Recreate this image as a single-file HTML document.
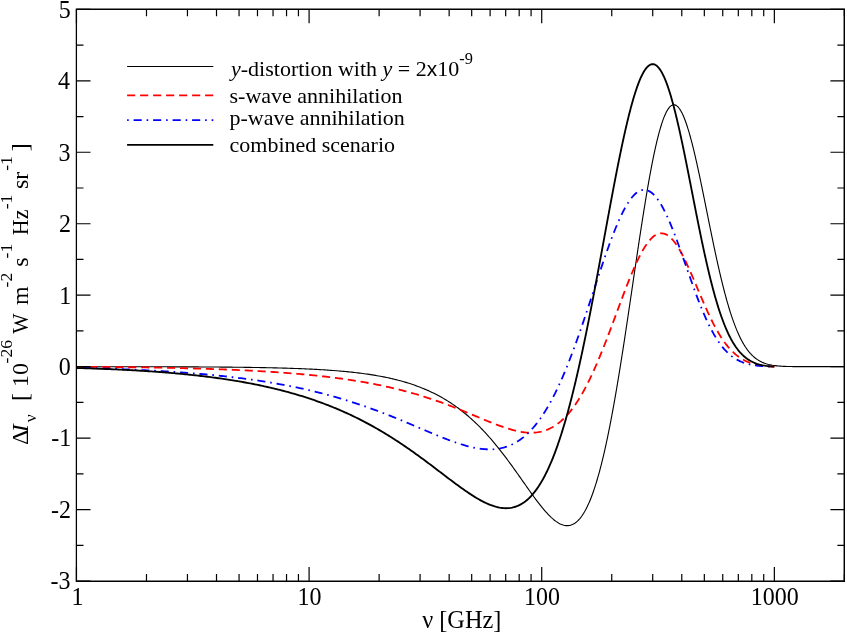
<!DOCTYPE html>
<html><head><meta charset="utf-8"><title>plot</title>
<style>html,body{margin:0;padding:0;background:#fff}svg{display:block;will-change:transform}text{font-family:"Liberation Serif",serif;fill:#000}</style></head>
<body>
<svg width="847" height="634" viewBox="0 0 847 634">
<rect x="0" y="0" width="847" height="634" fill="#fff"/>
<defs><clipPath id="c"><rect x="76.5" y="9.3" width="767.9" height="571.7"/></clipPath></defs>
<g clip-path="url(#c)" fill="none" stroke-linejoin="round">
<polyline stroke="#000" stroke-width="1.12" points="76.45,366.69 78.05,366.69 79.65,366.69 81.25,366.69 82.85,366.69 84.46,366.69 86.06,366.69 87.66,366.69 89.26,366.69 90.86,366.69 92.46,366.70 94.06,366.70 95.66,366.70 97.26,366.70 98.87,366.70 100.47,366.70 102.07,366.70 103.67,366.70 105.27,366.70 106.87,366.71 108.47,366.71 110.07,366.71 111.67,366.71 113.28,366.71 114.88,366.71 116.48,366.72 118.08,366.72 119.68,366.72 121.28,366.72 122.88,366.72 124.48,366.72 126.08,366.73 127.69,366.73 129.29,366.73 130.89,366.73 132.49,366.74 134.09,366.74 135.69,366.74 137.29,366.74 138.89,366.74 140.50,366.75 142.10,366.75 143.70,366.75 145.30,366.76 146.90,366.76 148.50,366.76 150.10,366.77 151.70,366.77 153.30,366.77 154.91,366.78 156.51,366.78 158.11,366.78 159.71,366.79 161.31,366.79 162.91,366.80 164.51,366.80 166.11,366.80 167.71,366.81 169.32,366.81 170.92,366.82 172.52,366.82 174.12,366.83 175.72,366.83 177.32,366.84 178.92,366.84 180.52,366.85 182.12,366.86 183.73,366.86 185.33,366.87 186.93,366.88 188.53,366.88 190.13,366.89 191.73,366.90 193.33,366.90 194.93,366.91 196.53,366.92 198.14,366.93 199.74,366.94 201.34,366.95 202.94,366.96 204.54,366.96 206.14,366.97 207.74,366.98 209.34,366.99 210.94,367.01 212.55,367.02 214.15,367.03 215.75,367.04 217.35,367.05 218.95,367.06 220.55,367.08 222.15,367.09 223.75,367.10 225.35,367.12 226.95,367.13 228.56,367.15 230.16,367.16 231.76,367.18 233.36,367.20 234.96,367.21 236.56,367.23 238.16,367.25 239.76,367.27 241.36,367.29 242.97,367.31 244.57,367.33 246.17,367.35 247.77,367.37 249.37,367.40 250.97,367.42 252.57,367.44 254.17,367.47 255.77,367.49 257.37,367.52 258.97,367.55 260.58,367.58 262.18,367.61 263.78,367.64 265.38,367.67 266.98,367.70 268.58,367.73 270.18,367.77 271.78,367.80 273.38,367.84 274.98,367.88 276.58,367.92 278.18,367.96 279.78,368.00 281.38,368.04 282.99,368.09 284.59,368.13 286.19,368.18 287.79,368.23 289.39,368.28 290.99,368.33 292.59,368.38 294.19,368.44 295.79,368.50 297.39,368.55 298.99,368.61 300.59,368.68 302.19,368.74 303.79,368.81 305.39,368.88 306.99,368.95 308.59,369.02 310.19,369.10 311.78,369.17 313.38,369.25 314.98,369.34 316.58,369.42 318.18,369.51 319.78,369.60 321.38,369.70 322.98,369.79 324.57,369.89 326.17,370.00 327.77,370.10 329.37,370.21 330.96,370.32 332.56,370.44 334.16,370.56 335.75,370.69 337.35,370.81 338.94,370.95 340.54,371.08 342.13,371.22 343.73,371.37 345.32,371.52 346.92,371.67 348.51,371.83 350.10,371.99 351.70,372.16 353.29,372.33 354.88,372.51 356.47,372.70 358.06,372.89 359.65,373.08 361.24,373.29 362.82,373.50 364.41,373.71 366.00,373.93 367.58,374.16 369.16,374.39 370.75,374.64 372.33,374.88 373.91,375.14 375.49,375.41 377.07,375.68 378.64,375.96 380.22,376.24 381.79,376.54 383.36,376.85 384.93,377.16 386.50,377.48 388.07,377.82 389.63,378.16 391.19,378.51 392.75,378.87 394.31,379.24 395.87,379.62 397.42,380.02 398.97,380.42 400.51,380.83 402.06,381.26 403.60,381.70 405.14,382.14 406.67,382.60 408.20,383.08 409.72,383.56 411.25,384.06 412.77,384.57 414.28,385.09 415.79,385.62 417.29,386.17 418.79,386.73 420.29,387.31 421.78,387.90 423.26,388.50 424.74,389.11 426.21,389.74 427.68,390.38 429.14,391.04 430.59,391.71 432.04,392.40 433.48,393.10 434.91,393.81 436.34,394.54 437.76,395.28 439.17,396.03 440.57,396.80 441.97,397.59 443.36,398.38 444.74,399.19 446.11,400.02 447.47,400.86 448.83,401.71 450.17,402.58 451.51,403.46 452.84,404.35 454.16,405.26 455.47,406.18 456.78,407.11 458.07,408.05 459.35,409.01 460.63,409.98 461.89,410.96 463.15,411.95 464.40,412.96 465.63,413.97 466.86,415.00 468.08,416.03 469.29,417.08 470.49,418.14 471.69,419.21 472.87,420.29 474.04,421.38 475.21,422.47 476.37,423.58 477.51,424.70 478.65,425.82 479.78,426.96 480.91,428.10 482.02,429.25 483.13,430.40 484.23,431.57 485.32,432.74 486.40,433.92 487.47,435.11 488.54,436.30 489.60,437.50 490.65,438.71 491.70,439.92 492.74,441.14 493.77,442.36 494.80,443.59 495.82,444.83 496.83,446.07 497.84,447.31 498.84,448.56 499.83,449.81 500.83,451.07 501.81,452.33 502.79,453.60 503.76,454.87 504.73,456.14 505.70,457.42 506.66,458.70 507.62,459.99 508.57,461.27 509.52,462.56 510.47,463.85 511.41,465.15 512.35,466.45 513.28,467.74 514.22,469.05 515.15,470.35 516.08,471.65 517.00,472.96 517.93,474.26 518.85,475.57 519.77,476.88 520.70,478.19 521.62,479.50 522.54,480.81 523.46,482.12 524.38,483.43 525.30,484.74 526.22,486.05 527.14,487.36 528.07,488.67 528.99,489.97 529.92,491.28 530.85,492.58 531.79,493.88 532.73,495.18 533.67,496.47 534.62,497.76 535.57,499.05 536.53,500.33 537.50,501.61 538.47,502.88 539.45,504.14 540.44,505.40 541.44,506.65 542.45,507.89 543.48,509.12 544.51,510.34 545.57,511.55 546.63,512.74 547.72,513.92 548.83,515.07 549.96,516.21 551.11,517.32 552.29,518.40 553.51,519.45 554.75,520.45 556.03,521.41 557.36,522.31 558.72,523.14 560.14,523.89 561.60,524.54 563.11,525.07 564.67,525.45 566.26,525.65 567.86,525.67 569.44,525.49 571.00,525.10 572.49,524.53 573.92,523.80 575.26,522.93 576.53,521.95 577.71,520.88 578.84,519.74 579.89,518.53 580.89,517.28 581.84,515.99 582.74,514.67 583.60,513.32 584.43,511.95 585.22,510.55 585.97,509.14 586.70,507.72 587.41,506.28 588.09,504.83 588.75,503.37 589.39,501.91 590.01,500.43 590.61,498.95 591.20,497.46 591.77,495.96 592.33,494.46 592.88,492.96 593.41,491.45 593.93,489.93 594.44,488.41 594.94,486.89 595.43,485.37 595.91,483.84 596.39,482.31 596.85,480.78 597.31,479.25 597.75,477.71 598.19,476.17 598.63,474.63 599.06,473.08 599.48,471.54 599.89,469.99 600.30,468.45 600.70,466.90 601.10,465.34 601.50,463.79 601.88,462.24 602.27,460.68 602.65,459.13 603.02,457.57 603.39,456.01 603.76,454.46 604.12,452.90 604.48,451.34 604.83,449.77 605.18,448.21 605.53,446.65 605.87,445.08 606.21,443.52 606.55,441.96 606.88,440.39 607.21,438.82 607.54,437.26 607.87,435.69 608.19,434.12 608.51,432.55 608.83,430.98 609.14,429.41 609.46,427.84 609.77,426.27 610.08,424.70 610.38,423.13 610.68,421.56 610.99,419.98 611.29,418.41 611.58,416.84 611.88,415.26 612.17,413.69 612.46,412.12 612.75,410.54 613.04,408.97 613.33,407.39 613.61,405.82 613.90,404.24 614.18,402.66 614.46,401.09 614.74,399.51 615.02,397.93 615.29,396.36 615.57,394.78 615.84,393.20 616.11,391.62 616.38,390.04 616.65,388.47 616.92,386.89 617.18,385.31 617.45,383.73 617.71,382.15 617.98,380.57 618.24,378.99 618.50,377.41 618.76,375.83 619.02,374.25 619.28,372.67 619.54,371.09 619.79,369.51 620.05,367.93 620.30,366.35 620.55,364.77 620.81,363.19 621.06,361.61 621.31,360.03 621.56,358.44 621.81,356.86 622.06,355.28 622.31,353.70 622.55,352.12 622.80,350.54 623.05,348.95 623.29,347.37 623.54,345.79 623.78,344.21 624.02,342.62 624.27,341.04 624.51,339.46 624.75,337.88 624.99,336.29 625.23,334.71 625.47,333.13 625.71,331.54 625.95,329.96 626.19,328.38 626.43,326.79 626.67,325.21 626.91,323.63 627.14,322.04 627.38,320.46 627.62,318.88 627.85,317.29 628.09,315.71 628.33,314.13 628.56,312.54 628.80,310.96 629.03,309.38 629.27,307.79 629.50,306.21 629.74,304.62 629.97,303.04 630.20,301.46 630.44,299.87 630.67,298.29 630.91,296.70 631.14,295.12 631.37,293.54 631.61,291.95 631.84,290.37 632.07,288.78 632.31,287.20 632.54,285.62 632.77,284.03 633.00,282.45 633.24,280.86 633.47,279.28 633.70,277.70 633.94,276.11 634.17,274.53 634.40,272.94 634.64,271.36 634.87,269.78 635.11,268.19 635.34,266.61 635.57,265.02 635.81,263.44 636.04,261.86 636.28,260.27 636.51,258.69 636.75,257.10 636.98,255.52 637.22,253.94 637.46,252.35 637.69,250.77 637.93,249.19 638.17,247.60 638.41,246.02 638.64,244.44 638.88,242.85 639.12,241.27 639.36,239.69 639.60,238.10 639.84,236.52 640.08,234.94 640.33,233.36 640.57,231.77 640.81,230.19 641.05,228.61 641.30,227.03 641.54,225.44 641.79,223.86 642.04,222.28 642.28,220.70 642.53,219.12 642.78,217.53 643.03,215.95 643.28,214.37 643.53,212.79 643.79,211.21 644.04,209.63 644.29,208.05 644.55,206.47 644.81,204.89 645.06,203.31 645.32,201.73 645.58,200.15 645.85,198.57 646.11,196.99 646.37,195.41 646.64,193.83 646.91,192.25 647.18,190.67 647.45,189.09 647.72,187.52 647.99,185.94 648.27,184.36 648.55,182.78 648.82,181.21 649.11,179.63 649.39,178.06 649.67,176.48 649.96,174.90 650.25,173.33 650.55,171.76 650.84,170.18 651.14,168.61 651.44,167.04 651.74,165.46 652.05,163.89 652.36,162.32 652.67,160.75 652.98,159.18 653.30,157.61 653.63,156.04 653.95,154.48 654.29,152.91 654.62,151.35 654.96,149.78 655.31,148.22 655.66,146.65 656.01,145.09 656.37,143.53 656.74,141.98 657.11,140.42 657.49,138.86 657.88,137.31 658.28,135.76 658.68,134.21 659.09,132.66 659.52,131.12 659.95,129.58 660.40,128.04 660.86,126.50 661.33,124.97 661.82,123.45 662.32,121.93 662.85,120.42 663.39,118.91 663.96,117.42 664.56,115.93 665.20,114.46 665.87,113.01 666.60,111.58 667.38,110.19 668.24,108.84 669.20,107.55 670.29,106.39 671.56,105.42 673.04,104.82 674.63,104.80 676.12,105.38 677.40,106.33 678.51,107.48 679.49,108.74 680.38,110.08 681.18,111.46 681.93,112.88 682.63,114.32 683.29,115.77 683.92,117.25 684.52,118.73 685.09,120.23 685.64,121.73 686.18,123.24 686.69,124.76 687.20,126.28 687.68,127.80 688.16,129.33 688.62,130.86 689.08,132.40 689.52,133.94 689.96,135.48 690.39,137.02 690.81,138.56 691.22,140.11 691.63,141.66 692.03,143.21 692.42,144.76 692.81,146.31 693.20,147.87 693.58,149.42 693.96,150.98 694.33,152.54 694.70,154.09 695.06,155.65 695.42,157.21 695.78,158.77 696.14,160.33 696.49,161.90 696.84,163.46 697.19,165.02 697.53,166.59 697.87,168.15 698.21,169.71 698.55,171.28 698.89,172.84 699.22,174.41 699.56,175.98 699.89,177.54 700.22,179.11 700.55,180.68 700.87,182.24 701.20,183.81 701.52,185.38 701.85,186.95 702.17,188.52 702.49,190.08 702.81,191.65 703.13,193.22 703.45,194.79 703.77,196.36 704.09,197.93 704.41,199.50 704.73,201.07 705.04,202.64 705.36,204.21 705.68,205.78 705.99,207.35 706.31,208.92 706.63,210.48 706.94,212.05 707.26,213.62 707.57,215.19 707.89,216.76 708.21,218.33 708.52,219.90 708.84,221.47 709.16,223.04 709.48,224.61 709.79,226.18 710.11,227.75 710.43,229.32 710.75,230.89 711.07,232.45 711.40,234.02 711.72,235.59 712.04,237.16 712.37,238.73 712.69,240.30 713.02,241.86 713.34,243.43 713.67,245.00 714.00,246.56 714.33,248.13 714.67,249.70 715.00,251.26 715.34,252.83 715.67,254.39 716.01,255.96 716.35,257.52 716.70,259.09 717.04,260.65 717.39,262.21 717.73,263.78 718.08,265.34 718.44,266.90 718.79,268.46 719.15,270.02 719.51,271.58 719.87,273.14 720.24,274.70 720.60,276.26 720.98,277.82 721.35,279.37 721.73,280.93 722.11,282.49 722.49,284.04 722.88,285.59 723.27,287.15 723.67,288.70 724.06,290.25 724.47,291.80 724.88,293.35 725.29,294.89 725.71,296.44 726.13,297.98 726.56,299.53 726.99,301.07 727.43,302.61 727.87,304.15 728.32,305.68 728.78,307.22 729.24,308.75 729.71,310.28 730.19,311.81 730.68,313.33 731.17,314.86 731.68,316.38 732.19,317.89 732.71,319.41 733.24,320.92 733.79,322.42 734.34,323.92 734.91,325.42 735.48,326.92 736.07,328.40 736.68,329.89 737.30,331.36 737.94,332.83 738.59,334.29 739.26,335.75 739.95,337.19 740.66,338.63 741.39,340.05 742.15,341.46 742.93,342.86 743.73,344.24 744.57,345.61 745.43,346.96 746.33,348.28 747.26,349.59 748.23,350.86 749.23,352.11 750.28,353.32 751.37,354.49 752.50,355.63 753.68,356.71 754.90,357.74 756.17,358.72 757.48,359.64 758.84,360.49 760.24,361.27 761.67,361.99 763.13,362.64 764.62,363.22 766.14,363.73 767.68,364.18 769.23,364.58 770.79,364.92 772.37,365.21 773.95,365.46 775.53,365.67 777.12,365.85 778.72,366.00 780.31,366.13 781.91,366.23 783.51,366.32 785.11,366.39 786.71,366.44 788.31,366.49 789.91,366.53 791.51,366.56 793.11,366.58 794.72,366.60 796.32,366.61 797.92,366.62 799.52,366.63 801.12,366.64 802.72,366.65 804.32,366.65 805.92,366.65 807.52,366.66 809.13,366.66 810.73,366.66 812.33,366.66 813.93,366.66 815.53,366.66 817.13,366.66 818.73,366.66 820.33,366.66 821.93,366.66 823.54,366.66 825.14,366.66 826.74,366.66 828.34,366.66 829.94,366.66 831.54,366.66 833.14,366.66 834.74,366.66 836.34,366.66 837.95,366.66 839.55,366.66 841.15,366.66 842.75,366.66 844.35,366.66"/>
<polyline stroke="#f00" stroke-dashoffset="0.0" stroke-width="1.80" stroke-dasharray="8.090 4.854" points="76.45,366.81 78.05,366.82 79.65,366.83 81.25,366.84 82.85,366.84 84.46,366.85 86.06,366.86 87.66,366.87 89.26,366.88 90.86,366.89 92.46,366.90 94.06,366.91 95.66,366.92 97.26,366.93 98.86,366.95 100.46,366.96 102.07,366.97 103.67,366.98 105.27,367.00 106.87,367.01 108.47,367.02 110.07,367.04 111.67,367.05 113.27,367.07 114.87,367.08 116.47,367.10 118.08,367.11 119.68,367.13 121.28,367.15 122.88,367.16 124.48,367.18 126.08,367.20 127.68,367.22 129.28,367.24 130.88,367.25 132.48,367.27 134.08,367.29 135.69,367.32 137.29,367.34 138.89,367.36 140.49,367.38 142.09,367.40 143.69,367.43 145.29,367.45 146.89,367.47 148.49,367.50 150.09,367.52 151.69,367.55 153.30,367.58 154.90,367.60 156.50,367.63 158.10,367.66 159.70,367.69 161.30,367.72 162.90,367.75 164.50,367.78 166.10,367.81 167.70,367.84 169.30,367.87 170.90,367.91 172.50,367.94 174.10,367.97 175.71,368.01 177.31,368.04 178.91,368.08 180.51,368.12 182.11,368.16 183.71,368.20 185.31,368.23 186.91,368.27 188.51,368.32 190.11,368.36 191.71,368.40 193.31,368.44 194.91,368.49 196.51,368.53 198.11,368.58 199.71,368.63 201.31,368.67 202.91,368.72 204.51,368.77 206.11,368.82 207.71,368.87 209.31,368.92 210.91,368.98 212.51,369.03 214.11,369.09 215.71,369.14 217.31,369.20 218.91,369.26 220.51,369.32 222.11,369.38 223.71,369.44 225.31,369.50 226.91,369.57 228.51,369.63 230.11,369.70 231.71,369.76 233.31,369.83 234.91,369.90 236.51,369.97 238.11,370.04 239.71,370.12 241.31,370.19 242.91,370.27 244.51,370.35 246.11,370.42 247.71,370.50 249.30,370.59 250.90,370.67 252.50,370.75 254.10,370.84 255.70,370.93 257.30,371.01 258.90,371.10 260.50,371.20 262.09,371.29 263.69,371.38 265.29,371.48 266.89,371.58 268.49,371.68 270.08,371.78 271.68,371.89 273.28,371.99 274.88,372.10 276.47,372.21 278.07,372.32 279.67,372.43 281.26,372.55 282.86,372.66 284.46,372.78 286.05,372.90 287.65,373.03 289.25,373.15 290.84,373.28 292.44,373.41 294.03,373.54 295.63,373.67 297.22,373.81 298.82,373.95 300.41,374.09 302.01,374.23 303.60,374.38 305.20,374.53 306.79,374.68 308.39,374.83 309.98,374.99 311.57,375.15 313.16,375.31 314.76,375.47 316.35,375.64 317.94,375.81 319.53,375.98 321.12,376.15 322.72,376.33 324.31,376.51 325.90,376.70 327.49,376.89 329.08,377.08 330.67,377.27 332.25,377.47 333.84,377.67 335.43,377.87 337.02,378.08 338.61,378.29 340.19,378.51 341.78,378.72 343.36,378.94 344.95,379.17 346.53,379.40 348.12,379.63 349.70,379.87 351.28,380.11 352.87,380.35 354.45,380.60 356.03,380.85 357.61,381.11 359.19,381.37 360.77,381.64 362.35,381.91 363.92,382.18 365.50,382.46 367.08,382.74 368.65,383.03 370.23,383.32 371.80,383.61 373.37,383.92 374.94,384.22 376.51,384.53 378.08,384.85 379.65,385.17 381.22,385.49 382.79,385.82 384.35,386.16 385.92,386.50 387.48,386.85 389.04,387.20 390.60,387.55 392.16,387.92 393.72,388.28 395.28,388.65 396.83,389.03 398.39,389.42 399.94,389.81 401.49,390.20 403.04,390.60 404.59,391.01 406.14,391.42 407.68,391.84 409.23,392.26 410.77,392.69 412.31,393.12 413.85,393.56 415.39,394.01 416.92,394.46 418.46,394.92 419.99,395.38 421.52,395.85 423.05,396.33 424.58,396.81 426.10,397.29 427.63,397.79 429.15,398.28 430.67,398.79 432.19,399.30 433.70,399.81 435.22,400.33 436.73,400.86 438.24,401.39 439.75,401.93 441.25,402.47 442.76,403.01 444.26,403.57 445.76,404.12 447.26,404.68 448.76,405.25 450.25,405.82 451.75,406.40 453.24,406.98 454.73,407.56 456.22,408.15 457.71,408.74 459.19,409.34 460.68,409.94 462.16,410.54 463.64,411.14 465.13,411.75 466.61,412.36 468.09,412.97 469.56,413.59 471.04,414.20 472.52,414.82 474.00,415.44 475.47,416.06 476.95,416.67 478.43,417.29 479.90,417.91 481.38,418.53 482.86,419.14 484.34,419.76 485.82,420.37 487.30,420.97 488.78,421.58 490.27,422.18 491.75,422.77 493.24,423.36 494.73,423.94 496.23,424.52 497.73,425.08 499.23,425.64 500.73,426.19 502.24,426.72 503.75,427.25 505.27,427.76 506.79,428.25 508.32,428.73 509.85,429.19 511.39,429.63 512.94,430.05 514.49,430.45 516.05,430.82 517.61,431.17 519.18,431.49 520.75,431.77 522.33,432.02 523.92,432.24 525.51,432.42 527.11,432.55 528.71,432.64 530.31,432.69 531.91,432.68 533.51,432.63 535.10,432.52 536.70,432.35 538.28,432.13 539.86,431.85 541.42,431.51 542.97,431.11 544.51,430.65 546.02,430.13 547.51,429.55 548.98,428.92 550.43,428.23 551.85,427.49 553.24,426.70 554.61,425.87 555.94,424.99 557.25,424.06 558.53,423.10 559.78,422.10 561.01,421.07 562.20,420.00 563.37,418.91 564.51,417.79 565.63,416.64 566.72,415.47 567.79,414.28 568.84,413.07 569.87,411.84 570.87,410.59 571.85,409.33 572.82,408.05 573.76,406.76 574.69,405.46 575.60,404.14 576.50,402.81 577.38,401.47 578.24,400.13 579.09,398.77 579.93,397.41 580.75,396.03 581.57,394.65 582.36,393.26 583.15,391.87 583.93,390.47 584.69,389.06 585.45,387.65 586.20,386.24 586.93,384.82 587.66,383.39 588.38,381.96 589.09,380.52 589.79,379.09 590.49,377.64 591.18,376.20 591.86,374.75 592.53,373.30 593.20,371.84 593.86,370.38 594.51,368.92 595.16,367.46 595.81,365.99 596.45,364.52 597.08,363.05 597.71,361.58 598.33,360.11 598.95,358.63 599.57,357.15 600.18,355.67 600.79,354.19 601.39,352.71 601.99,351.23 602.59,349.74 603.18,348.25 603.77,346.76 604.36,345.27 604.94,343.78 605.52,342.29 606.10,340.80 606.68,339.31 607.25,337.81 607.83,336.32 608.40,334.82 608.96,333.32 609.53,331.83 610.10,330.33 610.66,328.83 611.22,327.33 611.78,325.83 612.34,324.33 612.90,322.83 613.46,321.33 614.02,319.83 614.57,318.33 615.13,316.83 615.69,315.33 616.24,313.82 616.80,312.32 617.35,310.82 617.91,309.32 618.47,307.82 619.02,306.32 619.58,304.82 620.14,303.32 620.70,301.82 621.26,300.32 621.82,298.82 622.38,297.32 622.95,295.82 623.51,294.32 624.08,292.83 624.65,291.33 625.22,289.83 625.80,288.34 626.38,286.85 626.96,285.36 627.54,283.86 628.13,282.38 628.72,280.89 629.32,279.40 629.92,277.92 630.52,276.43 631.13,274.95 631.75,273.48 632.37,272.00 633.00,270.53 633.63,269.06 634.27,267.59 634.92,266.13 635.57,264.67 636.24,263.21 636.91,261.76 637.60,260.31 638.30,258.87 639.00,257.43 639.73,256.00 640.46,254.58 641.21,253.17 641.98,251.76 642.77,250.37 643.57,248.99 644.40,247.62 645.26,246.26 646.14,244.93 647.06,243.61 648.00,242.32 648.99,241.06 650.03,239.84 651.11,238.66 652.25,237.54 653.46,236.49 654.75,235.54 656.11,234.70 657.56,234.02 659.08,233.53 660.66,233.28 662.26,233.30 663.83,233.57 665.35,234.08 666.79,234.78 668.14,235.64 669.41,236.61 670.61,237.67 671.74,238.80 672.82,239.99 673.84,241.22 674.82,242.49 675.76,243.78 676.67,245.10 677.55,246.44 678.40,247.80 679.23,249.17 680.03,250.55 680.82,251.95 681.58,253.35 682.34,254.77 683.07,256.19 683.80,257.61 684.51,259.05 685.21,260.49 685.90,261.93 686.59,263.38 687.26,264.83 687.93,266.28 688.59,267.74 689.25,269.20 689.90,270.67 690.54,272.13 691.18,273.60 691.82,275.07 692.45,276.54 693.08,278.01 693.71,279.48 694.34,280.96 694.96,282.43 695.59,283.91 696.21,285.38 696.83,286.86 697.45,288.33 698.07,289.81 698.69,291.28 699.32,292.76 699.94,294.23 700.57,295.71 701.19,297.18 701.82,298.65 702.45,300.12 703.09,301.59 703.73,303.06 704.37,304.53 705.01,305.99 705.66,307.46 706.32,308.92 706.98,310.38 707.64,311.83 708.31,313.29 708.99,314.74 709.67,316.18 710.37,317.63 711.07,319.07 711.77,320.51 712.49,321.94 713.21,323.36 713.95,324.79 714.70,326.20 715.46,327.61 716.23,329.02 717.01,330.41 717.80,331.80 718.61,333.18 719.44,334.55 720.28,335.92 721.14,337.27 722.02,338.61 722.91,339.93 723.83,341.25 724.76,342.55 725.72,343.83 726.71,345.09 727.71,346.34 728.74,347.56 729.80,348.76 730.89,349.94 732.00,351.09 733.15,352.21 734.32,353.30 735.53,354.35 736.76,355.37 738.03,356.34 739.33,357.28 740.66,358.17 742.02,359.02 743.41,359.82 744.82,360.57 746.26,361.27 747.72,361.92 749.21,362.52 750.71,363.07 752.23,363.57 753.77,364.02 755.32,364.43 756.87,364.79 758.44,365.12 760.02,365.40 761.60,365.65 763.19,365.87 764.78,366.05 766.37,366.21 767.97,366.34 769.56,366.45 771.16,366.54 772.76,366.62 774.36,366.67"/>
<polyline stroke="#00f" stroke-dashoffset="0.0" stroke-width="1.80" stroke-dasharray="1.620 4.861 8.102 4.861" points="76.45,367.86 78.05,367.90 79.65,367.94 81.25,367.97 82.85,368.01 84.46,368.05 86.06,368.09 87.66,368.13 89.26,368.17 90.86,368.21 92.46,368.26 94.06,368.30 95.66,368.34 97.26,368.39 98.86,368.43 100.47,368.48 102.07,368.53 103.67,368.58 105.27,368.63 106.87,368.68 108.47,368.73 110.07,368.79 111.67,368.84 113.27,368.89 114.87,368.95 116.47,369.01 118.07,369.07 119.67,369.12 121.27,369.18 122.87,369.25 124.47,369.31 126.07,369.37 127.68,369.44 129.28,369.50 130.88,369.57 132.48,369.64 134.08,369.71 135.68,369.78 137.28,369.85 138.88,369.92 140.48,370.00 142.07,370.07 143.67,370.15 145.27,370.23 146.87,370.31 148.47,370.39 150.07,370.47 151.67,370.56 153.27,370.64 154.87,370.73 156.47,370.82 158.07,370.91 159.67,371.00 161.27,371.09 162.87,371.19 164.46,371.28 166.06,371.38 167.66,371.48 169.26,371.58 170.86,371.68 172.46,371.79 174.05,371.89 175.65,372.00 177.25,372.11 178.85,372.22 180.45,372.33 182.04,372.45 183.64,372.56 185.24,372.68 186.83,372.80 188.43,372.93 190.03,373.05 191.62,373.18 193.22,373.30 194.82,373.43 196.41,373.57 198.01,373.70 199.60,373.84 201.20,373.98 202.80,374.12 204.39,374.26 205.99,374.41 207.58,374.55 209.17,374.70 210.77,374.85 212.36,375.01 213.96,375.17 215.55,375.32 217.14,375.49 218.74,375.65 220.33,375.82 221.92,375.99 223.52,376.16 225.11,376.33 226.70,376.51 228.29,376.69 229.88,376.87 231.47,377.05 233.06,377.24 234.65,377.43 236.24,377.63 237.83,377.82 239.42,378.02 241.01,378.22 242.60,378.43 244.19,378.63 245.77,378.84 247.36,379.06 248.95,379.28 250.54,379.50 252.12,379.72 253.71,379.94 255.29,380.17 256.88,380.41 258.46,380.64 260.04,380.88 261.63,381.13 263.21,381.37 264.79,381.62 266.37,381.87 267.95,382.13 269.53,382.39 271.11,382.65 272.69,382.92 274.27,383.19 275.85,383.47 277.43,383.75 279.00,384.03 280.58,384.31 282.15,384.60 283.73,384.90 285.30,385.20 286.87,385.50 288.45,385.80 290.02,386.11 291.59,386.42 293.16,386.74 294.73,387.06 296.30,387.39 297.86,387.72 299.43,388.05 300.99,388.39 302.56,388.73 304.12,389.08 305.69,389.43 307.25,389.79 308.81,390.15 310.37,390.51 311.93,390.88 313.48,391.25 315.04,391.63 316.60,392.01 318.15,392.40 319.70,392.79 321.25,393.18 322.81,393.58 324.36,393.99 325.90,394.40 327.45,394.81 329.00,395.23 330.54,395.65 332.09,396.08 333.63,396.51 335.17,396.95 336.71,397.39 338.25,397.83 339.78,398.28 341.32,398.74 342.85,399.20 344.39,399.66 345.92,400.13 347.45,400.60 348.98,401.08 350.50,401.56 352.03,402.05 353.55,402.54 355.08,403.04 356.60,403.54 358.12,404.05 359.64,404.55 361.15,405.07 362.67,405.59 364.18,406.11 365.69,406.64 367.20,407.17 368.71,407.70 370.22,408.24 371.73,408.79 373.23,409.34 374.74,409.89 376.24,410.45 377.74,411.01 379.24,411.57 380.73,412.14 382.23,412.71 383.73,413.28 385.22,413.86 386.71,414.44 388.20,415.03 389.69,415.62 391.18,416.21 392.67,416.81 394.15,417.40 395.64,418.00 397.12,418.61 398.60,419.21 400.08,419.82 401.56,420.44 403.04,421.05 404.52,421.66 406.00,422.28 407.48,422.90 408.95,423.52 410.43,424.14 411.90,424.77 413.38,425.39 414.85,426.02 416.33,426.65 417.80,427.27 419.27,427.90 420.75,428.53 422.22,429.15 423.69,429.78 425.17,430.41 426.64,431.03 428.12,431.66 429.59,432.28 431.07,432.90 432.55,433.52 434.03,434.13 435.51,434.74 436.99,435.35 438.47,435.96 439.96,436.56 441.44,437.16 442.93,437.75 444.42,438.33 445.91,438.91 447.41,439.49 448.91,440.06 450.41,440.61 451.91,441.16 453.42,441.71 454.93,442.24 456.44,442.76 457.96,443.27 459.48,443.77 461.01,444.25 462.54,444.72 464.08,445.18 465.62,445.61 467.16,446.04 468.71,446.44 470.27,446.82 471.83,447.19 473.39,447.53 474.96,447.84 476.54,448.14 478.12,448.40 479.70,448.64 481.29,448.84 482.88,449.02 484.48,449.16 486.07,449.26 487.67,449.33 489.27,449.36 490.88,449.35 492.48,449.29 494.08,449.19 495.67,449.05 497.26,448.86 498.84,448.62 500.42,448.33 501.98,447.99 503.54,447.60 505.08,447.16 506.60,446.68 508.11,446.14 509.60,445.55 511.08,444.92 512.53,444.24 513.95,443.52 515.36,442.75 516.74,441.94 518.10,441.09 519.43,440.21 520.74,439.29 522.03,438.33 523.29,437.34 524.52,436.32 525.73,435.27 526.92,434.20 528.08,433.10 529.23,431.97 530.34,430.83 531.44,429.66 532.52,428.48 533.57,427.27 534.61,426.05 535.63,424.81 536.62,423.56 537.60,422.29 538.57,421.01 539.51,419.72 540.44,418.41 541.35,417.10 542.25,415.77 543.14,414.44 544.01,413.09 544.86,411.74 545.71,410.38 546.54,409.01 547.36,407.63 548.16,406.25 548.96,404.86 549.74,403.46 550.52,402.06 551.28,400.65 552.04,399.24 552.78,397.82 553.52,396.40 554.24,394.97 554.96,393.54 555.67,392.11 556.37,390.67 557.07,389.22 557.75,387.78 558.43,386.33 559.10,384.87 559.77,383.41 560.43,381.95 561.08,380.49 561.73,379.03 562.37,377.56 563.00,376.09 563.63,374.62 564.25,373.14 564.87,371.66 565.49,370.18 566.10,368.70 566.70,367.22 567.30,365.73 567.89,364.25 568.48,362.76 569.07,361.27 569.65,359.78 570.23,358.28 570.81,356.79 571.38,355.29 571.94,353.79 572.51,352.29 573.07,350.79 573.63,349.29 574.18,347.79 574.73,346.29 575.28,344.78 575.82,343.28 576.37,341.77 576.91,340.26 577.45,338.75 577.98,337.24 578.51,335.73 579.04,334.22 579.57,332.71 580.10,331.20 580.62,329.68 581.15,328.17 581.67,326.66 582.19,325.14 582.70,323.63 583.22,322.11 583.73,320.59 584.25,319.08 584.76,317.56 585.27,316.04 585.78,314.52 586.28,313.00 586.79,311.48 587.30,309.96 587.80,308.44 588.31,306.92 588.81,305.40 589.31,303.88 589.81,302.36 590.32,300.84 590.82,299.32 591.32,297.80 591.82,296.28 592.32,294.75 592.82,293.23 593.32,291.71 593.82,290.19 594.32,288.67 594.82,287.15 595.32,285.63 595.82,284.10 596.32,282.58 596.82,281.06 597.32,279.54 597.83,278.02 598.33,276.50 598.83,274.98 599.34,273.46 599.84,271.94 600.35,270.42 600.86,268.90 601.37,267.39 601.88,265.87 602.40,264.35 602.91,262.83 603.43,261.32 603.95,259.80 604.47,258.29 604.99,256.77 605.51,255.26 606.04,253.75 606.57,252.24 607.10,250.73 607.64,249.22 608.18,247.71 608.72,246.20 609.27,244.70 609.82,243.19 610.37,241.69 610.93,240.19 611.49,238.69 612.06,237.19 612.63,235.70 613.21,234.20 613.79,232.71 614.38,231.22 614.97,229.73 615.58,228.25 616.19,226.77 616.80,225.29 617.43,223.82 618.06,222.34 618.70,220.88 619.35,219.41 620.02,217.96 620.69,216.50 621.38,215.06 622.08,213.62 622.79,212.18 623.52,210.76 624.26,209.34 625.03,207.93 625.81,206.53 626.62,205.15 627.45,203.78 628.30,202.43 629.19,201.09 630.11,199.78 631.06,198.50 632.06,197.24 633.11,196.03 634.21,194.87 635.37,193.76 636.60,192.74 637.91,191.82 639.30,191.02 640.77,190.40 642.32,189.98 643.91,189.82 645.51,189.92 647.07,190.27 648.56,190.85 649.97,191.61 651.29,192.51 652.53,193.52 653.70,194.62 654.80,195.78 655.85,196.99 656.85,198.24 657.80,199.53 658.72,200.84 659.60,202.18 660.45,203.54 661.27,204.91 662.07,206.30 662.84,207.71 663.60,209.12 664.33,210.54 665.05,211.97 665.75,213.41 666.44,214.86 667.12,216.31 667.78,217.77 668.44,219.23 669.08,220.70 669.71,222.17 670.33,223.64 670.95,225.12 671.56,226.60 672.16,228.09 672.75,229.57 673.34,231.06 673.92,232.55 674.50,234.05 675.07,235.54 675.64,237.04 676.20,238.54 676.76,240.04 677.32,241.54 677.87,243.05 678.42,244.55 678.96,246.06 679.51,247.57 680.05,249.07 680.59,250.58 681.12,252.09 681.66,253.60 682.19,255.11 682.72,256.62 683.25,258.13 683.78,259.64 684.31,261.15 684.84,262.67 685.37,264.18 685.90,265.69 686.43,267.20 686.95,268.71 687.48,270.23 688.01,271.74 688.54,273.25 689.07,274.76 689.60,276.27 690.14,277.78 690.67,279.29 691.21,280.80 691.74,282.31 692.28,283.82 692.83,285.32 693.37,286.83 693.92,288.34 694.47,289.84 695.02,291.34 695.57,292.85 696.13,294.35 696.69,295.85 697.26,297.34 697.83,298.84 698.40,300.34 698.98,301.83 699.57,303.32 700.16,304.81 700.75,306.30 701.35,307.78 701.96,309.26 702.57,310.74 703.19,312.22 703.82,313.69 704.46,315.16 705.10,316.63 705.75,318.09 706.41,319.55 707.08,321.01 707.76,322.46 708.45,323.90 709.15,325.34 709.87,326.78 710.59,328.20 711.33,329.62 712.08,331.04 712.85,332.44 713.64,333.84 714.44,335.23 715.25,336.60 716.09,337.97 716.94,339.32 717.82,340.67 718.72,341.99 719.64,343.30 720.58,344.60 721.55,345.87 722.55,347.12 723.58,348.35 724.63,349.56 725.72,350.73 726.83,351.88 727.98,353.00 729.17,354.08 730.38,355.12 731.64,356.12 732.92,357.07 734.24,357.98 735.59,358.84 736.98,359.64 738.39,360.40 739.83,361.10 741.29,361.75 742.78,362.34 744.29,362.89 745.81,363.38 747.35,363.82 748.90,364.22 750.46,364.57 752.03,364.89 753.61,365.16 755.19,365.41 756.78,365.62 758.37,365.80 759.97,365.96 761.56,366.10 763.16,366.22 764.76,366.32 766.36,366.40 767.96,366.47 769.56,366.52 771.16,366.57 772.76,366.61 774.36,366.64"/>
<polyline stroke="#000" stroke-width="1.85" points="76.45,368.01 78.05,368.06 79.65,368.10 81.25,368.15 82.85,368.19 84.45,368.24 86.05,368.29 87.65,368.34 89.25,368.39 90.85,368.44 92.45,368.49 94.05,368.55 95.65,368.60 97.25,368.66 98.85,368.72 100.45,368.78 102.05,368.84 103.65,368.90 105.25,368.96 106.85,369.03 108.45,369.09 110.05,369.16 111.65,369.23 113.25,369.30 114.85,369.37 116.45,369.44 118.05,369.51 119.65,369.59 121.25,369.67 122.85,369.74 124.45,369.82 126.05,369.91 127.65,369.99 129.24,370.07 130.84,370.16 132.44,370.25 134.04,370.34 135.64,370.43 137.24,370.52 138.84,370.62 140.43,370.71 142.03,370.81 143.63,370.91 145.23,371.01 146.82,371.12 148.42,371.22 150.02,371.33 151.62,371.44 153.21,371.55 154.81,371.67 156.41,371.78 158.01,371.90 159.60,372.02 161.20,372.14 162.79,372.26 164.39,372.39 165.99,372.52 167.58,372.65 169.18,372.78 170.77,372.92 172.37,373.06 173.96,373.19 175.56,373.34 177.15,373.48 178.75,373.63 180.34,373.78 181.94,373.93 183.53,374.09 185.12,374.24 186.72,374.40 188.31,374.56 189.90,374.73 191.49,374.90 193.08,375.07 194.68,375.24 196.27,375.42 197.86,375.60 199.45,375.78 201.04,375.96 202.63,376.15 204.22,376.34 205.81,376.54 207.40,376.74 208.99,376.94 210.57,377.14 212.16,377.35 213.75,377.56 215.34,377.77 216.92,377.99 218.51,378.21 220.09,378.43 221.68,378.66 223.26,378.89 224.85,379.12 226.43,379.36 228.01,379.60 229.59,379.85 231.18,380.10 232.76,380.35 234.34,380.61 235.92,380.87 237.50,381.13 239.07,381.40 240.65,381.67 242.23,381.95 243.81,382.23 245.38,382.52 246.96,382.81 248.53,383.10 250.10,383.40 251.67,383.70 253.25,384.01 254.82,384.32 256.39,384.64 257.96,384.96 259.52,385.28 261.09,385.61 262.66,385.95 264.22,386.28 265.78,386.63 267.35,386.98 268.91,387.33 270.47,387.69 272.03,388.06 273.59,388.42 275.14,388.80 276.70,389.18 278.25,389.56 279.80,389.95 281.36,390.35 282.91,390.75 284.45,391.15 286.00,391.57 287.55,391.98 289.09,392.41 290.64,392.83 292.18,393.27 293.72,393.71 295.25,394.15 296.79,394.60 298.32,395.06 299.86,395.52 301.39,395.99 302.92,396.47 304.44,396.95 305.97,397.43 307.49,397.93 309.01,398.42 310.53,398.93 312.05,399.44 313.57,399.96 315.08,400.48 316.59,401.01 318.10,401.55 319.61,402.09 321.11,402.64 322.61,403.19 324.11,403.75 325.61,404.32 327.10,404.89 328.60,405.48 330.09,406.06 331.57,406.66 333.06,407.26 334.54,407.86 336.02,408.47 337.49,409.09 338.97,409.72 340.44,410.35 341.91,410.99 343.37,411.64 344.83,412.29 346.29,412.95 347.75,413.61 349.20,414.28 350.65,414.96 352.10,415.65 353.55,416.34 354.99,417.03 356.43,417.74 357.86,418.45 359.29,419.16 360.72,419.89 362.15,420.62 363.57,421.35 364.99,422.09 366.40,422.84 367.82,423.60 369.22,424.36 370.63,425.12 372.03,425.90 373.43,426.67 374.83,427.46 376.22,428.25 377.61,429.05 378.99,429.85 380.38,430.66 381.76,431.47 383.13,432.29 384.50,433.11 385.87,433.94 387.24,434.78 388.60,435.62 389.96,436.47 391.31,437.32 392.67,438.18 394.02,439.04 395.36,439.91 396.70,440.78 398.04,441.65 399.38,442.54 400.71,443.42 402.04,444.31 403.37,445.21 404.70,446.11 406.02,447.01 407.34,447.92 408.65,448.83 409.97,449.75 411.28,450.67 412.58,451.59 413.89,452.52 415.19,453.45 416.49,454.39 417.79,455.32 419.09,456.26 420.38,457.21 421.67,458.15 422.96,459.10 424.25,460.05 425.53,461.01 426.82,461.96 428.10,462.92 429.38,463.88 430.66,464.85 431.94,465.81 433.21,466.78 434.49,467.74 435.77,468.71 437.04,469.68 438.32,470.65 439.59,471.62 440.86,472.59 442.14,473.56 443.41,474.53 444.68,475.50 445.96,476.47 447.24,477.44 448.51,478.40 449.79,479.37 451.07,480.33 452.35,481.29 453.63,482.25 454.92,483.20 456.20,484.16 457.49,485.11 458.79,486.05 460.08,486.99 461.38,487.92 462.69,488.85 464.00,489.77 465.31,490.69 466.63,491.60 467.95,492.50 469.28,493.39 470.62,494.27 471.96,495.14 473.31,496.00 474.67,496.85 476.04,497.68 477.42,498.50 478.80,499.30 480.20,500.08 481.61,500.84 483.03,501.58 484.46,502.30 485.90,502.99 487.36,503.66 488.83,504.29 490.31,504.89 491.81,505.45 493.33,505.98 494.85,506.45 496.40,506.89 497.95,507.26 499.52,507.59 501.10,507.85 502.69,508.04 504.29,508.16 505.89,508.21 507.49,508.18 509.08,508.07 510.67,507.87 512.25,507.58 513.80,507.21 515.34,506.76 516.85,506.22 518.32,505.60 519.77,504.91 521.18,504.15 522.54,503.32 523.88,502.43 525.17,501.49 526.42,500.49 527.64,499.45 528.82,498.37 529.96,497.25 531.07,496.09 532.15,494.91 533.19,493.69 534.21,492.45 535.19,491.19 536.15,489.91 537.08,488.61 537.99,487.29 538.88,485.96 539.74,484.61 540.58,483.25 541.41,481.87 542.21,480.49 543.00,479.09 543.76,477.69 544.52,476.28 545.25,474.85 545.97,473.42 546.68,471.99 547.38,470.55 548.06,469.10 548.73,467.64 549.38,466.18 550.03,464.72 550.66,463.25 551.29,461.77 551.90,460.29 552.51,458.81 553.10,457.33 553.69,455.84 554.27,454.34 554.84,452.85 555.40,451.35 555.95,449.84 556.50,448.34 557.04,446.83 557.57,445.32 558.10,443.81 558.62,442.30 559.13,440.78 559.64,439.26 560.14,437.74 560.63,436.22 561.12,434.69 561.61,433.17 562.09,431.64 562.56,430.11 563.03,428.58 563.50,427.05 563.96,425.52 564.42,423.98 564.87,422.44 565.31,420.91 565.76,419.37 566.20,417.83 566.63,416.29 567.07,414.75 567.49,413.20 567.92,411.66 568.34,410.12 568.76,408.57 569.17,407.02 569.58,405.48 569.99,403.93 570.40,402.38 570.80,400.83 571.20,399.28 571.59,397.73 571.99,396.17 572.38,394.62 572.76,393.07 573.15,391.51 573.53,389.96 573.91,388.40 574.29,386.85 574.67,385.29 575.04,383.74 575.41,382.18 575.78,380.62 576.15,379.06 576.51,377.50 576.87,375.94 577.23,374.38 577.59,372.82 577.95,371.26 578.30,369.70 578.66,368.14 579.01,366.58 579.36,365.01 579.70,363.45 580.05,361.89 580.39,360.32 580.74,358.76 581.08,357.20 581.42,355.63 581.75,354.07 582.09,352.50 582.43,350.94 582.76,349.37 583.09,347.80 583.42,346.24 583.75,344.67 584.08,343.10 584.41,341.53 584.73,339.97 585.06,338.40 585.38,336.83 585.70,335.26 586.02,333.69 586.34,332.13 586.66,330.56 586.98,328.99 587.29,327.42 587.61,325.85 587.92,324.28 588.24,322.71 588.55,321.14 588.86,319.57 589.17,318.00 589.48,316.43 589.79,314.85 590.10,313.28 590.41,311.71 590.71,310.14 591.02,308.57 591.32,307.00 591.63,305.43 591.93,303.85 592.23,302.28 592.54,300.71 592.84,299.14 593.14,297.56 593.44,295.99 593.74,294.42 594.04,292.85 594.34,291.27 594.63,289.70 594.93,288.13 595.23,286.55 595.52,284.98 595.82,283.41 596.11,281.83 596.41,280.26 596.70,278.68 597.00,277.11 597.29,275.54 597.58,273.96 597.88,272.39 598.17,270.81 598.46,269.24 598.75,267.67 599.05,266.09 599.34,264.52 599.63,262.94 599.92,261.37 600.21,259.79 600.50,258.22 600.79,256.64 601.08,255.07 601.37,253.50 601.66,251.92 601.95,250.35 602.24,248.77 602.53,247.20 602.81,245.62 603.10,244.05 603.39,242.47 603.68,240.90 603.97,239.32 604.26,237.75 604.55,236.17 604.84,234.60 605.13,233.02 605.42,231.45 605.70,229.87 605.99,228.30 606.28,226.72 606.57,225.15 606.86,223.58 607.15,222.00 607.44,220.43 607.73,218.85 608.02,217.28 608.32,215.70 608.61,214.13 608.90,212.55 609.19,210.98 609.48,209.41 609.77,207.83 610.07,206.26 610.36,204.68 610.65,203.11 610.95,201.54 611.24,199.96 611.54,198.39 611.83,196.81 612.13,195.24 612.43,193.67 612.72,192.09 613.02,190.52 613.32,188.95 613.62,187.38 613.92,185.80 614.22,184.23 614.52,182.66 614.83,181.09 615.13,179.51 615.43,177.94 615.74,176.37 616.05,174.80 616.35,173.23 616.66,171.66 616.97,170.08 617.28,168.51 617.59,166.94 617.90,165.37 618.22,163.80 618.53,162.23 618.85,160.66 619.17,159.09 619.49,157.53 619.81,155.96 620.13,154.39 620.45,152.82 620.78,151.25 621.11,149.69 621.43,148.12 621.76,146.55 622.10,144.99 622.43,143.42 622.77,141.85 623.11,140.29 623.45,138.73 623.79,137.16 624.14,135.60 624.48,134.04 624.83,132.47 625.19,130.91 625.54,129.35 625.90,127.79 626.26,126.23 626.63,124.67 627.00,123.11 627.37,121.56 627.74,120.00 628.12,118.44 628.50,116.89 628.89,115.34 629.28,113.78 629.68,112.23 630.08,110.68 630.48,109.13 630.89,107.58 631.31,106.04 631.73,104.49 632.16,102.95 632.60,101.41 633.04,99.87 633.49,98.34 633.95,96.80 634.41,95.27 634.89,93.74 635.37,92.21 635.87,90.69 636.37,89.17 636.89,87.66 637.43,86.15 637.97,84.64 638.54,83.15 639.12,81.65 639.72,80.17 640.35,78.70 641.00,77.23 641.67,75.78 642.39,74.35 643.14,72.93 643.93,71.55 644.78,70.19 645.70,68.88 646.70,67.62 647.80,66.46 649.03,65.44 650.41,64.64 651.95,64.20 653.54,64.23 655.06,64.73 656.42,65.56 657.63,66.61 658.71,67.79 659.69,69.06 660.58,70.39 661.41,71.75 662.19,73.15 662.92,74.58 663.62,76.02 664.28,77.48 664.91,78.95 665.52,80.43 666.11,81.92 666.68,83.42 667.23,84.92 667.76,86.43 668.28,87.94 668.78,89.46 669.28,90.99 669.76,92.51 670.23,94.04 670.69,95.58 671.14,97.11 671.59,98.65 672.02,100.19 672.45,101.73 672.88,103.28 673.29,104.82 673.70,106.37 674.11,107.92 674.51,109.47 674.90,111.02 675.29,112.58 675.68,114.13 676.06,115.69 676.43,117.24 676.81,118.80 677.17,120.36 677.54,121.92 677.90,123.48 678.26,125.04 678.62,126.60 678.97,128.16 679.32,129.72 679.67,131.28 680.02,132.85 680.36,134.41 680.70,135.97 681.04,137.54 681.37,139.10 681.71,140.67 682.04,142.24 682.37,143.80 682.70,145.37 683.03,146.94 683.36,148.50 683.68,150.07 684.01,151.64 684.33,153.21 684.65,154.78 684.97,156.35 685.29,157.92 685.60,159.48 685.92,161.05 686.24,162.62 686.55,164.19 686.86,165.76 687.18,167.33 687.49,168.90 687.80,170.47 688.11,172.05 688.42,173.62 688.73,175.19 689.04,176.76 689.35,178.33 689.66,179.90 689.97,181.47 690.28,183.04 690.59,184.61 690.89,186.18 691.20,187.76 691.51,189.33 691.81,190.90 692.12,192.47 692.43,194.04 692.74,195.61 693.04,197.18 693.35,198.75 693.66,200.33 693.97,201.90 694.28,203.47 694.58,205.04 694.89,206.61 695.20,208.18 695.51,209.75 695.82,211.32 696.13,212.89 696.44,214.46 696.76,216.03 697.07,217.60 697.38,219.17 697.70,220.74 698.01,222.31 698.33,223.88 698.64,225.45 698.96,227.02 699.28,228.59 699.60,230.16 699.92,231.73 700.24,233.30 700.56,234.87 700.89,236.43 701.21,238.00 701.54,239.57 701.87,241.14 702.20,242.70 702.53,244.27 702.86,245.84 703.20,247.40 703.53,248.97 703.87,250.53 704.21,252.10 704.55,253.66 704.89,255.22 705.24,256.79 705.59,258.35 705.94,259.91 706.29,261.48 706.64,263.04 707.00,264.60 707.36,266.16 707.72,267.72 708.09,269.28 708.45,270.83 708.82,272.39 709.20,273.95 709.57,275.51 709.95,277.06 710.34,278.62 710.72,280.17 711.12,281.72 711.51,283.27 711.91,284.82 712.31,286.37 712.72,287.92 713.13,289.47 713.54,291.02 713.96,292.56 714.39,294.10 714.82,295.65 715.25,297.19 715.70,298.73 716.14,300.26 716.60,301.80 717.06,303.33 717.52,304.87 717.99,306.39 718.47,307.92 718.96,309.45 719.46,310.97 719.96,312.49 720.47,314.01 720.99,315.52 721.53,317.03 722.07,318.54 722.62,320.04 723.18,321.54 723.75,323.04 724.34,324.53 724.94,326.01 725.55,327.49 726.17,328.96 726.81,330.43 727.47,331.89 728.15,333.34 728.84,334.79 729.55,336.22 730.28,337.65 731.03,339.06 731.80,340.46 732.60,341.85 733.42,343.23 734.27,344.58 735.15,345.92 736.05,347.24 736.99,348.54 737.96,349.81 738.97,351.06 740.01,352.27 741.09,353.45 742.21,354.60 743.37,355.70 744.57,356.76 745.81,357.77 747.09,358.73 748.41,359.64 749.77,360.49 751.16,361.28 752.59,362.01 754.05,362.67 755.53,363.27 757.04,363.82 758.56,364.30 760.10,364.73 761.66,365.11 763.23,365.43 764.80,365.71 766.39,365.95 767.98,366.15 769.57,366.32 771.16,366.45 772.76,366.56 774.36,366.65"/>
</g>
<path d="M76.5,581.05h14.0 M844.4,581.05h-14.0 M76.5,509.59h14.0 M844.4,509.59h-14.0 M76.5,438.12h14.0 M844.4,438.12h-14.0 M76.5,366.66h14.0 M844.4,366.66h-14.0 M76.5,295.20h14.0 M844.4,295.20h-14.0 M76.5,223.74h14.0 M844.4,223.74h-14.0 M76.5,152.27h14.0 M844.4,152.27h-14.0 M76.5,80.81h14.0 M844.4,80.81h-14.0 M76.5,9.35h14.0 M844.4,9.35h-14.0 M76.5,545.32h7.0 M844.4,545.32h-7.0 M76.5,473.86h7.0 M844.4,473.86h-7.0 M76.5,402.39h7.0 M844.4,402.39h-7.0 M76.5,330.93h7.0 M844.4,330.93h-7.0 M76.5,259.47h7.0 M844.4,259.47h-7.0 M76.5,188.01h7.0 M844.4,188.01h-7.0 M76.5,116.54h7.0 M844.4,116.54h-7.0 M76.5,45.08h7.0 M844.4,45.08h-7.0 M76.45,581.0v-14.0 M76.45,9.3v14.0 M146.48,581.0v-7.0 M146.48,9.3v7.0 M187.45,581.0v-7.0 M187.45,9.3v7.0 M216.51,581.0v-7.0 M216.51,9.3v7.0 M239.06,581.0v-7.0 M239.06,9.3v7.0 M257.48,581.0v-7.0 M257.48,9.3v7.0 M273.05,581.0v-7.0 M273.05,9.3v7.0 M286.54,581.0v-7.0 M286.54,9.3v7.0 M298.44,581.0v-7.0 M298.44,9.3v7.0 M309.09,581.0v-14.0 M309.09,9.3v14.0 M379.12,581.0v-7.0 M379.12,9.3v7.0 M420.08,581.0v-7.0 M420.08,9.3v7.0 M449.15,581.0v-7.0 M449.15,9.3v7.0 M471.69,581.0v-7.0 M471.69,9.3v7.0 M490.11,581.0v-7.0 M490.11,9.3v7.0 M505.69,581.0v-7.0 M505.69,9.3v7.0 M519.18,581.0v-7.0 M519.18,9.3v7.0 M531.08,581.0v-7.0 M531.08,9.3v7.0 M541.72,581.0v-14.0 M541.72,9.3v14.0 M611.75,581.0v-7.0 M611.75,9.3v7.0 M652.72,581.0v-7.0 M652.72,9.3v7.0 M681.78,581.0v-7.0 M681.78,9.3v7.0 M704.33,581.0v-7.0 M704.33,9.3v7.0 M722.75,581.0v-7.0 M722.75,9.3v7.0 M738.32,581.0v-7.0 M738.32,9.3v7.0 M751.82,581.0v-7.0 M751.82,9.3v7.0 M763.72,581.0v-7.0 M763.72,9.3v7.0 M774.36,581.0v-14.0 M774.36,9.3v14.0 M844.39,581.0v-7.0 M844.39,9.3v7.0" stroke="#000" stroke-width="1.20" fill="none"/>
<path fill="#000" d="M75.75,8.60H845.00V581.95H75.75Z M77.03,10.00V580.50H843.55V10.00Z" fill-rule="evenodd"/>
<g font-size="24.0">
<text transform="translate(70.51,589.40) scale(0.960,1)" font-size="25.0" text-anchor="end">-3</text>
<text transform="translate(71.04,517.94) scale(0.960,1)" font-size="25.0" text-anchor="end">-2</text>
<text transform="translate(71.32,446.48) scale(0.960,1)" font-size="25.0" text-anchor="end">-1</text>
<text transform="translate(70.63,375.01) scale(0.960,1)" font-size="25.0" text-anchor="end">0</text>
<text transform="translate(71.32,303.55) scale(0.960,1)" font-size="25.0" text-anchor="end">1</text>
<text transform="translate(71.04,232.09) scale(0.960,1)" font-size="25.0" text-anchor="end">2</text>
<text transform="translate(70.51,160.62) scale(0.960,1)" font-size="25.0" text-anchor="end">3</text>
<text transform="translate(70.09,89.16) scale(0.960,1)" font-size="25.0" text-anchor="end">4</text>
<text transform="translate(70.71,17.70) scale(0.960,1)" font-size="25.0" text-anchor="end">5</text>
<text transform="translate(77.45,604.70) scale(0.960,1)" font-size="25.0" text-anchor="middle">1</text>
<text transform="translate(309.47,604.70) scale(0.960,1)" font-size="25.0" text-anchor="middle">10</text>
<text transform="translate(542.01,604.70) scale(0.960,1)" font-size="25.0" text-anchor="middle">100</text>
<text transform="translate(774.67,604.70) scale(0.960,1)" font-size="25.0" text-anchor="middle">1000</text>
<text x="422.2" y="627.8" font-size="24.3">ν [GHz]</text>
<g transform="translate(27.8,445.0) rotate(-90)">
<text x="0.0" y="0.0" font-size="24.0">Δ</text>
<text x="12.8" y="0.0" font-size="24.0" font-style="italic">I</text>
<text x="22.8" y="8.0" font-size="17.6">ν</text>
<text x="44.0" y="0.0" font-size="24.0">[</text>
<text x="58.1" y="0.0" font-size="24.0">10</text>
<text x="81.6" y="-15.9" font-size="17.6">-26</text>
<text x="111.2" y="0.0" font-size="24.0" textLength="20.3" lengthAdjust="spacingAndGlyphs">W</text>
<text x="140.1" y="0.0" font-size="24.0">m</text>
<text x="157.6" y="-15.9" font-size="17.6">-2</text>
<text x="178.3" y="0.0" font-size="24.0">s</text>
<text x="186.6" y="-15.9" font-size="17.6">-1</text>
<text x="209.8" y="0.0" font-size="24.0" textLength="25.6" lengthAdjust="spacingAndGlyphs">Hz</text>
<text x="235.7" y="-15.9" font-size="17.6">-1</text>
<text x="256.0" y="0.0" font-size="24.0">sr</text>
<text x="274.2" y="-15.9" font-size="17.6">-1</text>
<text x="293.8" y="0.0" font-size="24.0">]</text>
</g>
<g font-size="22.0">
<text id="l1" x="231.0" y="75.5" xml:space="preserve"><tspan font-style="italic">y</tspan>-distortion with <tspan font-style="italic">y</tspan> = 2<tspan font-family="Liberation Sans" font-size="20.9">x</tspan>10<tspan font-size="16.4" dy="-12.0">-9</tspan></text>
<text id="l2" x="229.5" y="102.7">s-wave annihilation</text>
<text id="l3" x="229.5" y="124.9">p-wave annihilation</text>
<text id="l4" x="229.5" y="152.4">combined scenario</text>
</g>
</g>
<g fill="none">
<path d="M127.1,66.5H213.3" stroke="#000" stroke-width="1.12"/>
<path d="M127.1,95.3H213.3" stroke="#f00" stroke-width="1.80" stroke-dasharray="8.12 4.88"/>
<path d="M127.1,120.2H213.3" stroke="#00f" stroke-width="1.80" stroke-dasharray="1.62 4.88 8.12 4.88"/>
<path d="M127.1,144.9H213.3" stroke="#000" stroke-width="1.85"/>
</g>
</svg>
</body></html>
